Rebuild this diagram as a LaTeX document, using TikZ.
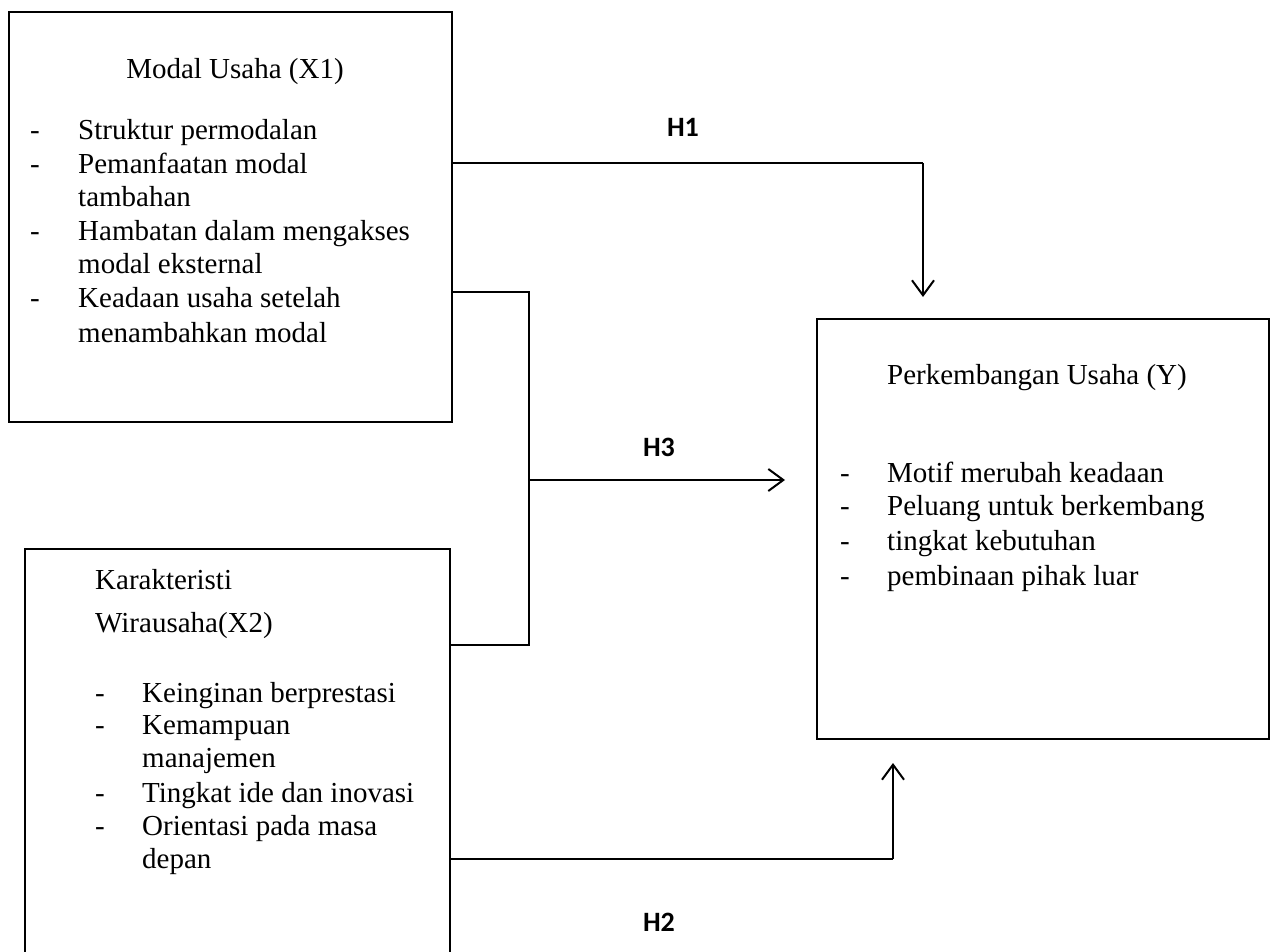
\documentclass[tikz,border=0pt]{standalone}
\usepackage{fontspec}
\setmainfont{Liberation Serif}
\newfontfamily\hfont{Carlito}
\usetikzlibrary{arrows.meta}
\begin{document}
\begin{tikzpicture}[x=1pt,y=-1pt,
  box/.style={draw, line width=2.2pt, rectangle, inner sep=0pt},
  txt/.style={inner sep=0pt, anchor=base west, font=\fontsize{29}{33.6}\selectfont},
  hlab/.style={inner sep=0pt, font=\hfont\bfseries\fontsize{28}{32}\selectfont},
  conn/.style={line width=1.3pt},
  arr/.style={line width=2pt, -{Straight Barb[length=15pt,width=22pt,line width=2pt]}}
]
\useasboundingbox (0,0) rectangle (1275,952);
% boxes
\node[box, minimum width=443pt, minimum height=410pt] (m1) at (230.5,217) {};
\node[box, minimum width=425pt, minimum height=408pt] (k2) at (237.5,753) {};
\node[box, minimum width=452pt, minimum height=420pt] (py) at (1043,529) {};
% box 1 text
\node[txt, anchor=base] (m1t) at (235,79) {Modal Usaha (X1)};
\node[txt] (m1d1) at (30,140) {-};
\node[txt] (m1a) at (78,140) {Struktur permodalan};
\node[txt] (m1d2) at (30,174) {-};
\node[txt] (m1b) at (78,174) {Pemanfaatan modal};
\node[txt] (m1b2) at (78,207) {tambahan};
\node[txt] (m1d3) at (30,241) {-};
\node[txt] (m1c) at (78,241) {Hambatan dalam mengakses};
\node[txt] (m1c2) at (78,274) {modal eksternal};
\node[txt] (m1d4) at (30,308) {-};
\node[txt] (m1e) at (78,308) {Keadaan usaha setelah};
\node[txt] (m1e2) at (78,342) {menambahkan modal};
% box 2 text
\node[txt] (k2t1) at (95,589) {Karakteristi};
\node[txt] (k2t2) at (95,632) {Wirausaha(X2)};
\node[txt] (k2d1) at (95,702) {-};
\node[txt] (k2a) at (142,702) {Keinginan berprestasi};
\node[txt] (k2d2) at (95,734) {-};
\node[txt] (k2b) at (142,734) {Kemampuan};
\node[txt] (k2b2) at (142,767) {manajemen};
\node[txt] (k2d3) at (95,802) {-};
\node[txt] (k2c) at (142,802) {Tingkat ide dan inovasi};
\node[txt] (k2d4) at (95,835) {-};
\node[txt] (k2e) at (142,835) {Orientasi pada masa};
\node[txt] (k2e2) at (142,868) {depan};
% box Y text
\node[txt] (pyt) at (887,384) {Perkembangan Usaha (Y)};
\node[txt] (pyd1) at (840,482) {-};
\node[txt] (pya) at (887,482) {Motif merubah keadaan};
\node[txt] (pyd2) at (840,515) {-};
\node[txt] (pyb) at (887,515) {Peluang untuk berkembang};
\node[txt] (pyd3) at (840,550) {-};
\node[txt] (pyc) at (887,550) {tingkat kebutuhan};
\node[txt] (pyd4) at (840,585) {-};
\node[txt] (pyd) at (887,585) {pembinaan pihak luar};
% labels
\node[hlab] (h1) at (683,127) {H1};
\node[hlab] (h3) at (659,447) {H3};
\node[hlab] (h2) at (659,922) {H2};
% connector coordinates
\coordinate (h1s) at (m1.east |- 0,163);
\coordinate (h1c) at (923,163);
\coordinate (h1e) at (923,297);
\coordinate (b1) at (m1.east |- 0,292);
\coordinate (b2) at (529,292);
\coordinate (b3) at (529,645);
\coordinate (b4) at (k2.east |- 0,645);
\coordinate (h3s) at (529,480);
\coordinate (h3e) at (785,480);
\coordinate (h2s) at (k2.east |- 0,859);
\coordinate (h2c) at (893,859);
\coordinate (h2e) at (893,763);
% connectors
\draw[conn] (h1s) -- (h1c);
\draw[arr] (h1c) -- (h1e);
\draw[conn] (b1) -- (b2) -- (b3) -- (b4);
\draw[arr] (h3s) -- (h3e);
\draw[conn] (h2s) -- (h2c);
\draw[arr] (h2c) -- (h2e);
\end{tikzpicture}
\end{document}
